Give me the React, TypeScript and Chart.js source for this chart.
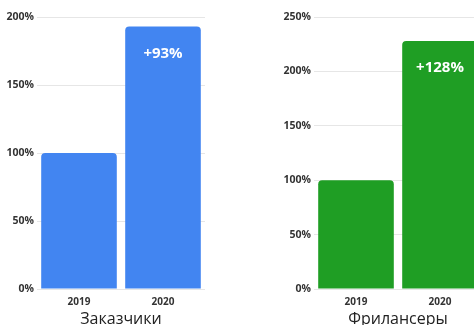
import React, { useEffect, useRef } from "react";
import { Chart, registerables } from "chart.js";

Chart.register(...registerables);

const categories = ["2019", "2020"];
const clientValues = [100, 193];
const clientLabels = ["", "+93%"];
const freelancerValues = [100, 228];
const freelancerLabels = ["", "+128%"];
const clientTitle = "Заказчики";
const freelancerTitle = "Фрилансеры";

const barLabelPlugin = {
  id: "barLabel",
  afterDatasetsDraw(chart: any) {
    const labels: string[] = chart.options.plugins.barLabel?.labels || [];
    const meta = chart.getDatasetMeta(0);
    const ctx = chart.ctx;
    ctx.save();
    ctx.fillStyle = "#ffffff";
    ctx.font = "bold 15px 'Open Sans', sans-serif";
    ctx.textAlign = "center";
    ctx.textBaseline = "middle";
    meta.data.forEach((el: any, i: number) => {
      if (labels[i]) ctx.fillText(labels[i], el.x, el.y + 27);
    });
    ctx.restore();
  },
};

function BarChart(props: {
  values: number[];
  labels: string[];
  title: string;
  color: string;
  max: number;
  yWidth: number;
  padRight: number;
  left: number;
  width: number;
}) {
  const ref = useRef<HTMLCanvasElement>(null);
  useEffect(() => {
    const chart = new Chart(ref.current!, {
      type: "bar",
      data: {
        labels: categories,
        datasets: [
          {
            data: props.values,
            backgroundColor: props.color,
            borderRadius: 4,
            barPercentage: 0.9,
            categoryPercentage: 1,
          },
        ],
      },
      options: {
        animation: false,
        responsive: false,
        maintainAspectRatio: false,
        layout: { padding: { top: 17, right: props.padRight, bottom: 0, left: 0 } },
        plugins: {
          legend: { display: false },
          tooltip: { enabled: false },
          barLabel: { labels: props.labels },
        } as any,
        scales: {
          x: {
            afterFit: (s: any) => {
              s.height = 41;
            },
            grid: { display: false, drawTicks: false },
            border: { display: false },
            ticks: {
              color: "#333",
              padding: 7,
              font: { family: "'Open Sans', sans-serif", size: 10, weight: "bold" },
            },
            title: {
              display: true,
              text: props.title,
              color: "#222",
              padding: { top: 2, bottom: 1 },
              font: { family: "'Open Sans', sans-serif", size: 16 },
            },
          },
          y: {
            min: 0,
            max: props.max,
            afterFit: (s: any) => {
              s.width = props.yWidth;
            },
            grid: { color: "#e6e6e6", drawTicks: false },
            border: { display: false },
            ticks: {
              stepSize: 50,
              padding: 3,
              color: "#333",
              font: { family: "'Open Sans', sans-serif", size: 10.5, weight: "bold" },
              callback: (v: any) => v + "%",
            },
          },
        },
      },
      plugins: [barLabelPlugin],
    });
    return () => chart.destroy();
  }, []);
  return (
    <div style={{ position: "absolute", left: props.left, top: 0, width: props.width, height: 330 }}>
      <canvas ref={ref} width={props.width} height={330} style={{ width: props.width, height: 330 }} />
    </div>
  );
}

export default function App() {
  return (
    <div
      style={{
        position: "fixed",
        left: 0,
        top: 0,
        width: 474,
        height: 325,
        overflow: "hidden",
        background: "#fff",
      }}
    >
      <BarChart
        values={clientValues}
        labels={clientLabels}
        title={clientTitle}
        color="#4285f1"
        max={200}
        yWidth={37}
        padRight={25}
        left={0}
        width={230}
      />
      <BarChart
        values={freelancerValues}
        labels={freelancerLabels}
        title={freelancerTitle}
        color="#1f9e24"
        max={250}
        yWidth={44}
        padRight={10}
        left={270}
        width={222}
      />
    </div>
  );
}
